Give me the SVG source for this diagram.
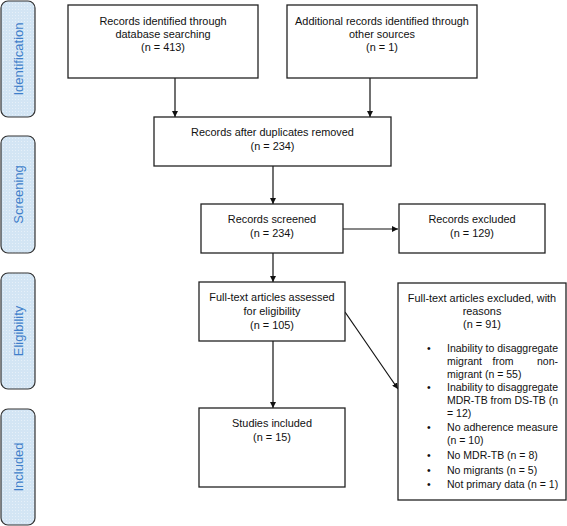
<svg xmlns="http://www.w3.org/2000/svg" width="567" height="526" viewBox="0 0 567 526">
<defs>
<pattern id="dots" width="3" height="3" patternUnits="userSpaceOnUse">
<rect width="3" height="3" fill="#d3e5f4"/>
<rect width="1" height="1" fill="#e6f0f9"/>
</pattern>
<marker id="ah" viewBox="0 0 10 10" refX="10" refY="5" markerWidth="6" markerHeight="6" markerUnits="userSpaceOnUse" orient="auto">
<path d="M0,0 L10,5 L0,10 Z" fill="#111"/>
</marker>
</defs>
<style>
.side{fill:url(#dots);stroke:#333;stroke-width:1.2}
.sidet{font-family:"Liberation Sans",Arial,sans-serif;font-size:13px;fill:#3f7fca;text-anchor:middle}
.box{fill:#fff;stroke:#222;stroke-width:1.3}
.t{font-family:"Liberation Sans",Arial,sans-serif;font-size:10.9px;fill:#111;text-anchor:middle}
.tl{font-family:"Liberation Sans",Arial,sans-serif;font-size:10.5px;fill:#111}
.c{stroke:#111;stroke-width:1.2;fill:none;marker-end:url(#ah)}
</style>
<g id="side-identification"><rect class="side" x="1" y="1" width="34" height="116" rx="7"/><text class="sidet" transform="translate(22.5,59) rotate(-90)">Identification</text></g>
<g id="side-screening"><rect class="side" x="1" y="136" width="34" height="117" rx="7"/><text class="sidet" transform="translate(22.5,194.5) rotate(-90)">Screening</text></g>
<g id="side-eligibility"><rect class="side" x="1" y="273" width="34" height="116" rx="7"/><text class="sidet" transform="translate(22.5,331) rotate(-90)">Eligibility</text></g>
<g id="side-included"><rect class="side" x="1" y="409" width="34" height="116" rx="7"/><text class="sidet" transform="translate(22.5,467) rotate(-90)">Included</text></g>

<g id="connectors">
<line class="c" x1="175" y1="78" x2="175" y2="117"/>
<line class="c" x1="370" y1="78" x2="370" y2="117"/>
<line class="c" x1="273" y1="166" x2="273" y2="204"/>
<line class="c" x1="343" y1="229" x2="398" y2="229"/>
<line class="c" x1="273" y1="253" x2="273" y2="282"/>
<line class="c" x1="273" y1="341" x2="273" y2="408"/>
<line class="c" x1="345" y1="312" x2="398" y2="389"/>
</g>

<g id="n-db"><rect class="box" x="68" y="5" width="190" height="73"/>
<text class="t" x="163" y="25">Records identified through</text>
<text class="t" x="163" y="38">database searching</text>
<text class="t" x="163" y="51">(n = 413)</text></g>
<g id="n-other"><rect class="box" x="287" y="5" width="190" height="73"/>
<text class="t" x="382" y="25">Additional records identified through</text>
<text class="t" x="382" y="38">other sources</text>
<text class="t" x="382" y="51">(n = 1)</text></g>
<g id="n-dup"><rect class="box" x="154" y="117" width="237" height="49"/>
<text class="t" x="272.5" y="136">Records after duplicates removed</text>
<text class="t" x="272.5" y="150">(n = 234)</text></g>
<g id="n-screened"><rect class="box" x="201" y="204" width="142" height="49"/>
<text class="t" x="272" y="223">Records screened</text>
<text class="t" x="272" y="237">(n = 234)</text></g>
<g id="n-excluded"><rect class="box" x="399" y="204" width="146" height="49"/>
<text class="t" x="472" y="223">Records excluded</text>
<text class="t" x="472" y="237">(n = 129)</text></g>
<g id="n-fulltext"><rect class="box" x="199" y="282" width="146" height="59"/>
<text class="t" x="272" y="301">Full-text articles assessed</text>
<text class="t" x="272" y="315">for eligibility</text>
<text class="t" x="272" y="329">(n = 105)</text></g>
<g id="n-ftexcluded"><rect class="box" x="398" y="283" width="168" height="217"/>
<text class="t" x="482" y="302">Full-text articles excluded, with</text>
<text class="t" x="482" y="315">reasons</text>
<text class="t" x="482" y="328">(n = 91)</text>
<g class="tl">
<text x="427" y="352">•</text><text x="447" y="352" textLength="111" lengthAdjust="spacingAndGlyphs">Inability to disaggregate</text>
<text x="447" y="365">migrant</text><text x="503" y="365" text-anchor="middle">from</text><text x="558" y="365" text-anchor="end">non-</text>
<text x="447" y="378">migrant (n = 55)</text>
<text x="427" y="391">•</text><text x="447" y="391" textLength="111" lengthAdjust="spacingAndGlyphs">Inability to disaggregate</text>
<text x="447" y="404" textLength="111" lengthAdjust="spacingAndGlyphs">MDR-TB from DS-TB (n</text>
<text x="447" y="417">= 12)</text>
<text x="427" y="431">•</text><text x="447" y="431" textLength="111" lengthAdjust="spacingAndGlyphs">No adherence measure</text>
<text x="447" y="444">(n = 10)</text>
<text x="427" y="459">•</text><text x="447" y="459">No MDR-TB (n = 8)</text>
<text x="427" y="474">•</text><text x="447" y="474">No migrants (n = 5)</text>
<text x="427" y="488">•</text><text x="447" y="488">Not primary data (n = 1)</text>
</g></g>
<g id="n-included"><rect class="box" x="199" y="408" width="146" height="79"/>
<text class="t" x="272" y="427">Studies included</text>
<text class="t" x="272" y="441">(n = 15)</text></g>
</svg>
